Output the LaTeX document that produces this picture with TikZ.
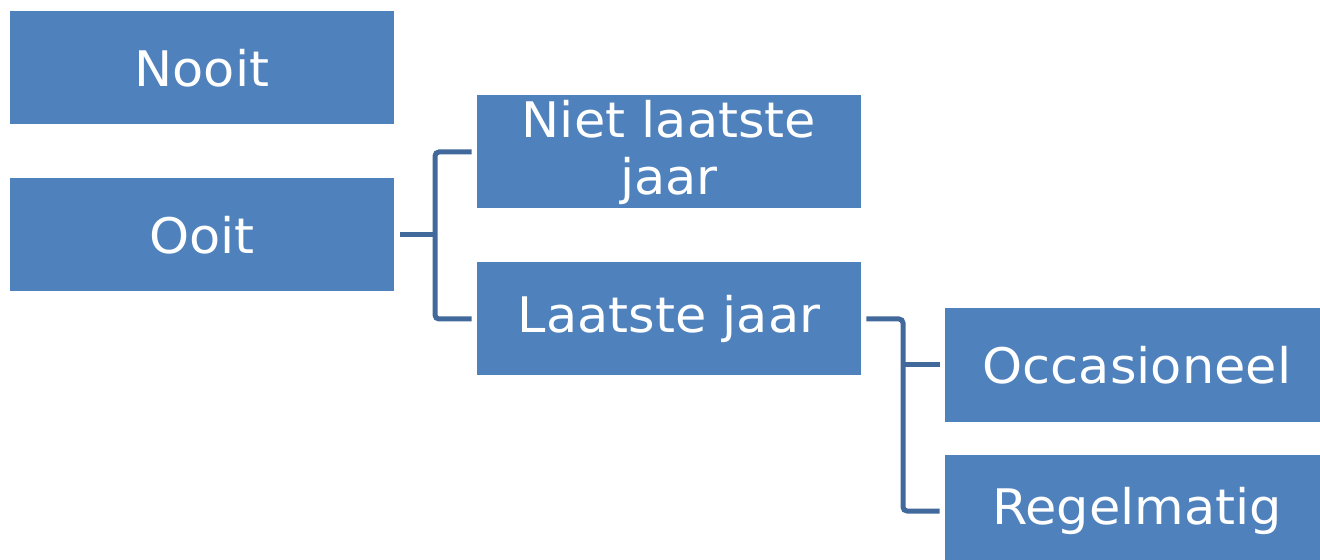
\documentclass[tikz,border=0pt]{standalone}
\usepackage{fontspec}
\setmainfont[FakeStretch=1.04]{DejaVu Sans}
\definecolor{boxblue}{HTML}{4F81BD}
\definecolor{lineblue}{HTML}{41699B}

\begin{document}
\begin{tikzpicture}
  [x=0.5pt, y=-0.5pt,
   box/.style={fill=boxblue, draw=none, text=white, align=center, inner sep=0pt,
               minimum width=192pt, minimum height=56.5pt,
               font=\fontsize{24.5}{27.5}\selectfont},
   link/.style={draw=lineblue, line width=2.5pt, rounded corners=2pt}]
  \useasboundingbox (0,0) rectangle (1320,560);
  \clip (0,0) rectangle (1320,560);
  \node[box] (nooit) at (202,68) {Nooit};
  \node[box] (ooit) at (202,235) {Ooit};
  \node[box] (niet) at (669,152) {Niet laatste\\[1pt]jaar};
  \node[box] (laatste) at (669,319) {Laatste jaar};
  \node[box] (occ) at (1137,365) {Occasioneel};
  \node[box] (regel) at (1137,511) {Regelmatig};
  \coordinate (j1) at (435,235);
  \coordinate (j2) at (903,365);
  \draw[link] ([xshift=3pt]ooit.east) -- (j1);
  \draw[link] ([xshift=-2.5pt]niet.west) -| (j1) |- ([xshift=-2.5pt]laatste.west);
  \draw[link] ([xshift=2.5pt]laatste.east) -| (j2) |- ([xshift=-2.5pt]regel.west);
  \draw[link] (j2) -- ([xshift=-2.5pt]occ.west);
\end{tikzpicture}
\end{document}
